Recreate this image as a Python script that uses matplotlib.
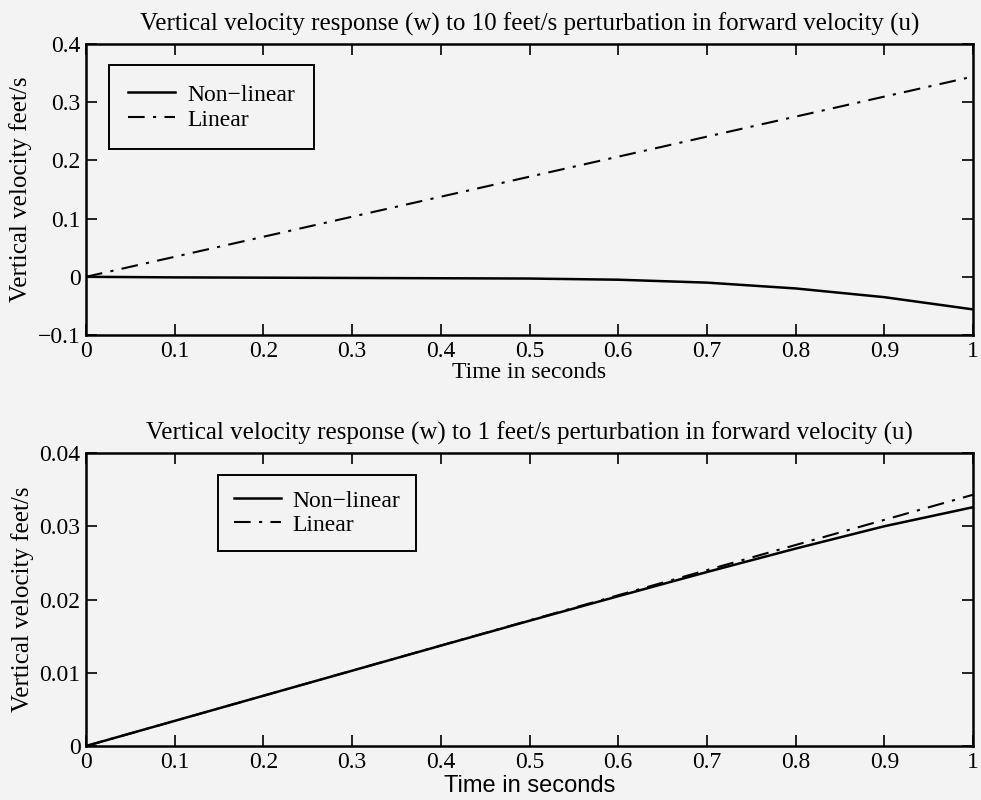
import matplotlib
matplotlib.use("Agg")
import matplotlib.pyplot as plt

# time samples (s)
t = [0.0, 0.1, 0.2, 0.3, 0.4, 0.5, 0.6, 0.7, 0.8, 0.9, 1.0]

# 10 ft/s perturbation
w10_nonlin = [0.0, -0.001, -0.0015, -0.002, -0.0025, -0.003, -0.005, -0.010, -0.020, -0.035, -0.056]
w10_lin = [0.0, 0.0344, 0.0688, 0.1032, 0.1376, 0.172, 0.2064, 0.2408, 0.2752, 0.3096, 0.344]

# 1 ft/s perturbation
w1_nonlin = [0.0, 0.00343, 0.00686, 0.01028, 0.01370, 0.01710, 0.02045, 0.02375, 0.02695, 0.03000, 0.03260]
w1_lin = [0.0, 0.00343, 0.00686, 0.01029, 0.01372, 0.01715, 0.02058, 0.02401, 0.02744, 0.03087, 0.03430]

xticks = [0, 0.1, 0.2, 0.3, 0.4, 0.5, 0.6, 0.7, 0.8, 0.9, 1]
xticklabels = ["0", "0.1", "0.2", "0.3", "0.4", "0.5", "0.6", "0.7", "0.8", "0.9", "1"]
yticks_top = [-0.1, 0, 0.1, 0.2, 0.3, 0.4]
yticklabels_top = ["\u22120.1", "0", "0.1", "0.2", "0.3", "0.4"]
yticks_bot = [0, 0.01, 0.02, 0.03, 0.04]
yticklabels_bot = ["0", "0.01", "0.02", "0.03", "0.04"]

plt.rcParams['font.family'] = ['Liberation Serif', 'DejaVu Serif']
plt.rcParams['font.size'] = 17
bg = '#f3f3f3'

fig = plt.figure(figsize=(9.81, 8.0), dpi=100, facecolor=bg)
W, H = 981.0, 800.0
# axes positions in pixels: left, top, right, bottom
ax1 = fig.add_axes([86 / W, 1 - 335 / H, (973 - 86) / W, (335 - 44) / H])
ax2 = fig.add_axes([86 / W, 1 - 746 / H, (973 - 86) / W, (746 - 453) / H])

def style(ax):
    ax.set_facecolor(bg)
    ax.set_xlim(0, 1)
    ax.set_xticks(xticks)
    ax.set_xticklabels(xticklabels)
    ax.tick_params(direction='in', top=True, right=True, length=8, width=1.2, pad=4)
    for s in ax.spines.values():
        s.set_linewidth(1.8)

# top panel
ax1.plot(t, w10_nonlin, color='black', lw=1.8, ls='-', label='Non\u2212linear')
ax1.plot(t, w10_lin, color='black', lw=1.5, ls=(0, (8, 4, 1.5, 4)), label='Linear')
style(ax1)
ax1.set_ylim(-0.1, 0.4)
ax1.set_yticks(yticks_top)
ax1.set_yticklabels(yticklabels_top)
ax1.set_title('Vertical velocity response (w) to 10 feet/s perturbation in forward velocity (u)',
              fontsize=18, pad=10)
ax1.set_xlabel('Time in seconds', labelpad=0)
ax1.set_ylabel('Vertical velocity feet/s', fontsize=18, labelpad=4)
leg1 = ax1.legend(loc='upper left', bbox_to_anchor=(0.013, 0.968), fancybox=False,
                  edgecolor='black', facecolor=bg, framealpha=1, handlelength=2.0,
                  handletextpad=0.5, borderpad=0.8, labelspacing=0.15, fontsize=17)
leg1.get_frame().set_linewidth(1.4)

# bottom panel
ax2.plot(t, w1_nonlin, color='black', lw=1.8, ls='-', label='Non\u2212linear')
ax2.plot(t, w1_lin, color='black', lw=1.5, ls=(0, (8, 4, 1.5, 4)), label='Linear')
style(ax2)
ax2.set_ylim(0, 0.04)
ax2.set_yticks(yticks_bot)
ax2.set_yticklabels(yticklabels_bot)
ax2.set_title('Vertical velocity response (w) to 1 feet/s perturbation in forward velocity (u)',
              fontsize=18, pad=10)
ax2.set_xlabel('Time in seconds', family=['Liberation Sans', 'DejaVu Sans'], labelpad=2)
ax2.set_ylabel('Vertical velocity feet/s', fontsize=18, labelpad=4)
leg2 = ax2.legend(loc='upper left', bbox_to_anchor=(0.136, 0.966), fancybox=False,
                  edgecolor='black', facecolor=bg, framealpha=1, handlelength=2.0,
                  handletextpad=0.5, borderpad=0.65, labelspacing=0.1, fontsize=17)
leg2.get_frame().set_linewidth(1.4)

fig.savefig('out.png', dpi=100, facecolor=bg)
